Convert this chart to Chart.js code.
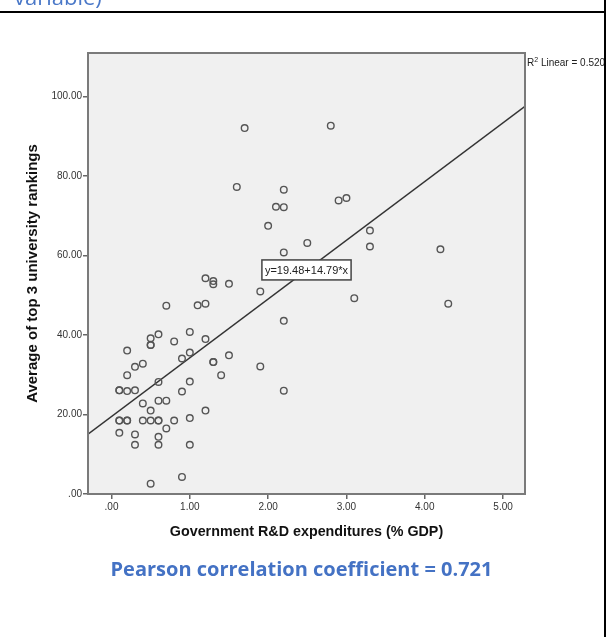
<!DOCTYPE html>
<html>
<head>
<meta charset="utf-8">
<script src="https://cdn.jsdelivr.net/npm/chart.js@4.4.0/dist/chart.umd.min.js"></script>
<style>
  body { margin: 0; background: #fff; }
  #wrap { position: relative; width: 613px; height: 637px; overflow: hidden; }
  #chart { position: absolute; left: 0; top: 0; }
  .cut-title { position: absolute; left: 14px; top: -16px; font: 22px/24px "Open Sans", sans-serif; color: #4a78c8; white-space: nowrap; }
  .line-top { position: absolute; left: 0; top: 11px; width: 606px; height: 2px; background: #000; }
  .line-right { position: absolute; left: 604px; top: 0; width: 2px; height: 637px; background: #000; }
  .pearson { position: absolute; left: 0; width: 603px; top: 555px; text-align: center; font: bold 20px "Open Sans", sans-serif; color: #4472c4; }
</style>
</head>
<body>
<div id="wrap">
  <canvas id="chart" width="613" height="637"></canvas>
  <div class="cut-title">variable)</div>
  <div class="line-top"></div>
  <div class="line-right"></div>
  <div class="pearson">Pearson correlation coefficient = 0.721</div>
</div>
<script>
// Government R&D expenditures (% GDP)
var govRD = [0.2, 0.5, 0.6, 0.5, 0.5, 0.8, 1.0, 1.2, 0.9, 1.0,
             0.4, 0.3, 1.3, 1.3, 1.5, 0.2, 1.4, 0.6, 1.0, 0.1,
             0.1, 0.2, 0.3, 0.9, 0.4, 0.6, 0.7, 0.5, 1.2, 0.1,
             0.1, 0.2, 0.2, 0.4, 0.5, 0.6, 0.6, 0.8, 1.0, 0.7,
             0.1, 0.3, 0.6, 0.3, 0.6, 1.0, 0.9, 0.5, 0.7, 1.1,
             1.2, 1.2, 1.3, 1.3, 1.5, 1.9, 2.8, 1.7, 1.6, 2.2,
             2.1, 2.2, 2.9, 3.0, 2.0, 3.3, 2.5, 3.3, 4.2, 2.2,
             3.1, 4.3, 2.2, 1.9, 2.2];
// Average of top 3 university rankings
var rankAvg = [36.1, 39.2, 40.2, 37.5, 37.5, 38.4, 40.8, 39.0, 34.1, 35.6,
               32.8, 32.0, 33.2, 33.2, 34.9, 29.9, 29.9, 28.2, 28.3, 26.1,
               26.1, 25.9, 26.1, 25.8, 22.8, 23.5, 23.5, 21.0, 21.0, 18.5,
               18.5, 18.5, 18.5, 18.5, 18.5, 18.5, 18.5, 18.5, 19.1, 16.5,
               15.4, 15.0, 14.4, 12.4, 12.4, 12.4, 4.3, 2.6, 47.4, 47.5,
               47.9, 54.3, 53.6, 52.8, 52.9, 51.0, 92.7, 92.1, 77.3, 76.6,
               72.3, 72.2, 73.9, 74.5, 67.5, 66.3, 63.2, 62.3, 61.6, 60.8,
               49.3, 47.9, 43.6, 32.1, 26.0];

// fit line shown on the chart
var fitIntercept = 19.48;
var fitSlope = 14.79;
var rSquared = '0.520';

var xMin = -0.3, xMax = 5.28;
var yMin = 0, yMax = 111;

var points = govRD.map(function (x, i) { return { x: x, y: rankAvg[i] }; });
var fitLine = [xMin, xMax].map(function (x) { return { x: x, y: fitIntercept + fitSlope * x }; });

function fmtTick(v) {
  return v === 0 ? '.00' : v.toFixed(2);
}

var plotBox = {
  id: 'plotBox',
  beforeDatasetsDraw: function (chart) {
    var a = chart.chartArea, ctx = chart.ctx;
    ctx.save();
    ctx.fillStyle = '#f0f0f0';
    ctx.fillRect(a.left, a.top, a.right - a.left, a.bottom - a.top);
    ctx.restore();
  },
  afterDraw: function (chart) {
    var a = chart.chartArea, ctx = chart.ctx;
    var xs = chart.scales.x, ys = chart.scales.y;
    ctx.save();
    ctx.strokeStyle = '#7a7a7a';
    ctx.lineWidth = 2;
    ctx.strokeRect(a.left, a.top, a.right - a.left, a.bottom - a.top);

    // equation label
    var label = 'y=' + fitIntercept.toFixed(2) + '+' + fitSlope.toFixed(2) + '*x';
    ctx.font = '11px "Liberation Sans", Arial, sans-serif';
    var w = ctx.measureText(label).width + 6;
    var cx = xs.getPixelForValue(2.49), cy = ys.getPixelForValue(56.4);
    ctx.fillStyle = '#fff';
    ctx.fillRect(cx - w / 2, cy - 10, w, 20);
    ctx.strokeStyle = '#444';
    ctx.lineWidth = 1.5;
    ctx.strokeRect(cx - w / 2, cy - 10, w, 20);
    ctx.fillStyle = '#222';
    ctx.textAlign = 'center';
    ctx.textBaseline = 'middle';
    ctx.fillText(label, cx, cy + 1);

    // R2 note
    var tx = a.right + 2, ty = a.top + 10;
    ctx.textAlign = 'left';
    ctx.font = '10px "Liberation Sans", Arial, sans-serif';
    ctx.fillText('R', tx, ty);
    var rw = ctx.measureText('R').width;
    ctx.font = '7px "Liberation Sans", Arial, sans-serif';
    ctx.fillText('2', tx + rw, ty - 3);
    var sw = ctx.measureText('2').width;
    ctx.font = '10px "Liberation Sans", Arial, sans-serif';
    ctx.fillText(' Linear = ' + rSquared, tx + rw + sw, ty);
    ctx.restore();
  }
};

var tickFont = { family: '"Liberation Sans", Arial, sans-serif', size: 10 };
var titleFont = { family: '"Liberation Sans", Arial, sans-serif', weight: 'bold' };

new Chart(document.getElementById('chart').getContext('2d'), {
  type: 'scatter',
  data: {
    datasets: [{
      label: 'Countries',
      data: points,
      pointStyle: 'circle',
      pointRadius: 3.3,
      pointBorderWidth: 1.4,
      pointBorderColor: '#555',
      pointBackgroundColor: 'rgba(0,0,0,0)'
    }, {
      type: 'line',
      label: 'Fit',
      data: fitLine,
      borderColor: '#333',
      borderWidth: 1.5,
      pointRadius: 0,
      fill: false
    }]
  },
  options: {
    responsive: false,
    animation: false,
    layout: { padding: { left: 0, top: 53, right: 88, bottom: 0 } },
    plugins: {
      legend: { display: false },
      tooltip: { enabled: false }
    },
    scales: {
      x: {
        type: 'linear',
        min: xMin,
        max: xMax,
        afterFit: function (s) { s.height = 143; },
        ticks: { stepSize: 1, includeBounds: false, callback: fmtTick, color: '#333', font: tickFont, padding: 2, maxRotation: 0 },
        grid: { drawOnChartArea: false, drawTicks: true, tickLength: 5, color: '#666', lineWidth: 1.5 },
        border: { display: true, color: '#7a7a7a', width: 2 },
        title: {
          display: true,
          text: 'Government R&D expenditures (% GDP)',
          color: '#111',
          font: Object.assign({ size: 14.3 }, titleFont),
          padding: { top: 0, bottom: 96 }
        }
      },
      y: {
        type: 'linear',
        min: yMin,
        max: yMax,
        afterFit: function (s) { s.width = 88; },
        ticks: { stepSize: 20, includeBounds: false, callback: fmtTick, color: '#333', font: tickFont, padding: 1 },
        grid: { drawOnChartArea: false, drawTicks: true, tickLength: 5, color: '#666', lineWidth: 1.5 },
        border: { display: true, color: '#7a7a7a', width: 2 },
        title: {
          display: true,
          text: 'Average of top 3 university rankings',
          color: '#111',
          font: Object.assign({ size: 15 }, titleFont),
          padding: { top: 24, bottom: 0 }
        }
      }
    }
  },
  plugins: [plotBox]
});
</script>
</body>
</html>
